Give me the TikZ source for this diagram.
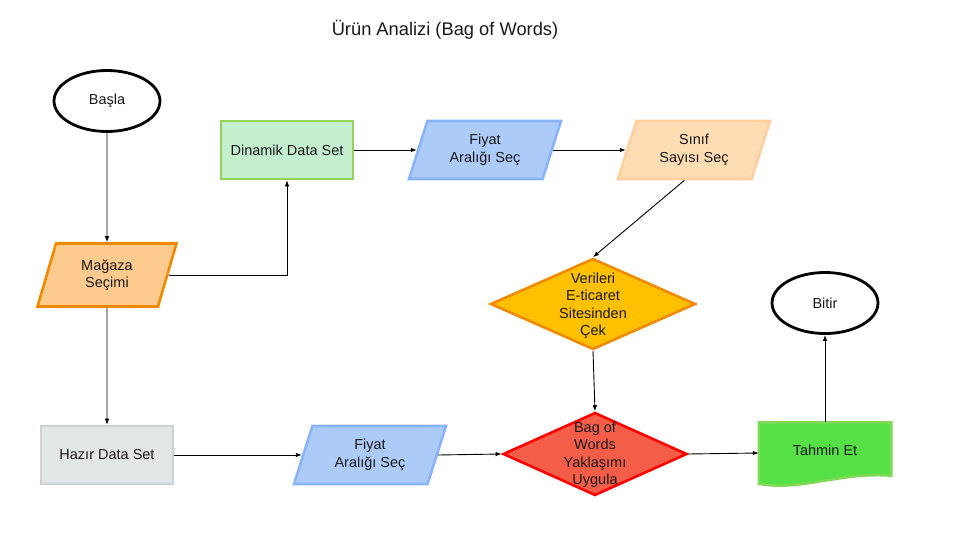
\documentclass[tikz,border=0pt]{standalone}
\usepackage{fontspec}
\setmainfont{Liberation Sans}
\usetikzlibrary{shapes.geometric,arrows.meta,calc,backgrounds}

\definecolor{magfill}{HTML}{FFCA8E}
\definecolor{magline}{HTML}{F08A00}
\definecolor{dinfill}{HTML}{C4EFCE}
\definecolor{dinline}{HTML}{93D35A}
\definecolor{fiyfill}{HTML}{ADCBF9}
\definecolor{fiyline}{HTML}{8AB4F8}
\definecolor{sinfill}{HTML}{FFDDB4}
\definecolor{sinline}{HTML}{FFCF9E}
\definecolor{verfill}{HTML}{FFC000}
\definecolor{hazfill}{HTML}{E1E6E8}
\definecolor{hazline}{HTML}{CBD3D6}
\definecolor{bagfill}{HTML}{F45E48}
\definecolor{tahfill}{HTML}{55E045}
\definecolor{tahline}{HTML}{80D858}

\tikzset{
    every node/.style={font=\fontsize{14.5}{17.5}\selectfont, text=black!90},
    term/.style={ellipse, draw=black, line width=2.8pt, fill=white,
        minimum width=106pt, minimum height=61pt},
    box/.style={rectangle, line width=2.6pt, minimum width=132pt, minimum height=58pt},
    io/.style={trapezium, trapezium left angle=64, trapezium right angle=116,
        trapezium stretches body, line width=2.6pt, align=center,
        minimum width=152pt, minimum height=58pt},
    decision/.style={diamond, line width=2.6pt, inner sep=0pt},
    flow/.style={draw=black, line width=0.9pt, -{Latex[length=6pt,width=4.5pt]}}
}

\begin{document}
\begin{tikzpicture}[x=1pt, y=-1pt]
    \useasboundingbox (0,0) rectangle (960,540);

    % Title
    \node[font=\fontsize{18.3}{22}\selectfont] (title) at (445,30) {Ürün Analizi (Bag of Words)};

    % Start and end
    \node[term] (basla) at (107,101) {Başla};
    \node[term] (bitir) at (825,303) {Bitir};

    % Upper branch
    \node[io, draw=magline, fill=magfill, minimum width=139pt, minimum height=63pt] (magaza) at (107,275) {Mağaza\\Seçimi};
    \node[box, draw=dinline, fill=dinfill] (dinamik) at (287,150) {Dinamik Data Set};
    \node[io, draw=fiyline, fill=fiyfill] (fiyat1) at (485,150) {Fiyat\\Aralığı Seç};
    \node[io, draw=sinline, fill=sinfill] (sinif) at (694,150) {Sınıf\\Sayısı Seç};
    \node[decision, draw=magline, fill=verfill, minimum width=205pt, minimum height=91pt,
        label={[align=center, yshift=-2pt]center:Verileri\\E-ticaret\\Sitesinden\\Çek}] (veri) at (593,304) {};

    % Lower branch
    \node[box, draw=hazline, fill=hazfill] (hazir) at (107,455) {Hazır Data Set};
    \node[io, draw=fiyline, fill=fiyfill] (fiyat2) at (370,455) {Fiyat\\Aralığı Seç};
    \node[decision, draw=red, fill=bagfill, minimum width=184pt, minimum height=83pt,
        label={[align=center, yshift=-1pt]center:Bag of\\Words\\Yaklaşımı\\Uygula}] (bag) at (595,454) {};

    % Document
    \node[rectangle, minimum width=132pt, minimum height=61pt] (tahmin) at (825,453) {};
    \begin{pgfonlayer}{background}
        \draw[line width=2.6pt, draw=tahline, fill=tahfill] (tahmin.north west) -- (tahmin.north east)
            -- ([yshift=8pt]tahmin.south east)
            .. controls ([xshift=-50pt,yshift=12pt]tahmin.south east) and ([xshift=40pt,yshift=-8pt]tahmin.south west)
            .. (tahmin.south west) -- cycle;
    \end{pgfonlayer}
    \node (tahtext) at (825,450) {Tahmin Et};

    % Connectors
    \draw[flow] (basla) -- (magaza.north);
    \draw[flow] (magaza.right side) -| (dinamik.south);
    \draw[flow] (magaza.south) -- (hazir.north);
    \draw[flow] (dinamik.east) -- (fiyat1.left side);
    \draw[flow] (fiyat1.right side) -- (sinif.left side);
    \draw[flow] (sinif.bottom side) -- (veri.north);
    \draw[flow] (veri.south) -- (bag.north);
    \draw[flow] (hazir.east) -- (fiyat2.left side);
    \draw[flow] (fiyat2.right side) -- (bag.west);
    \draw[flow] (bag.east) -- (tahmin.west);
    \draw[flow] (tahmin.north) -- (bitir.south);

\end{tikzpicture}
\end{document}
